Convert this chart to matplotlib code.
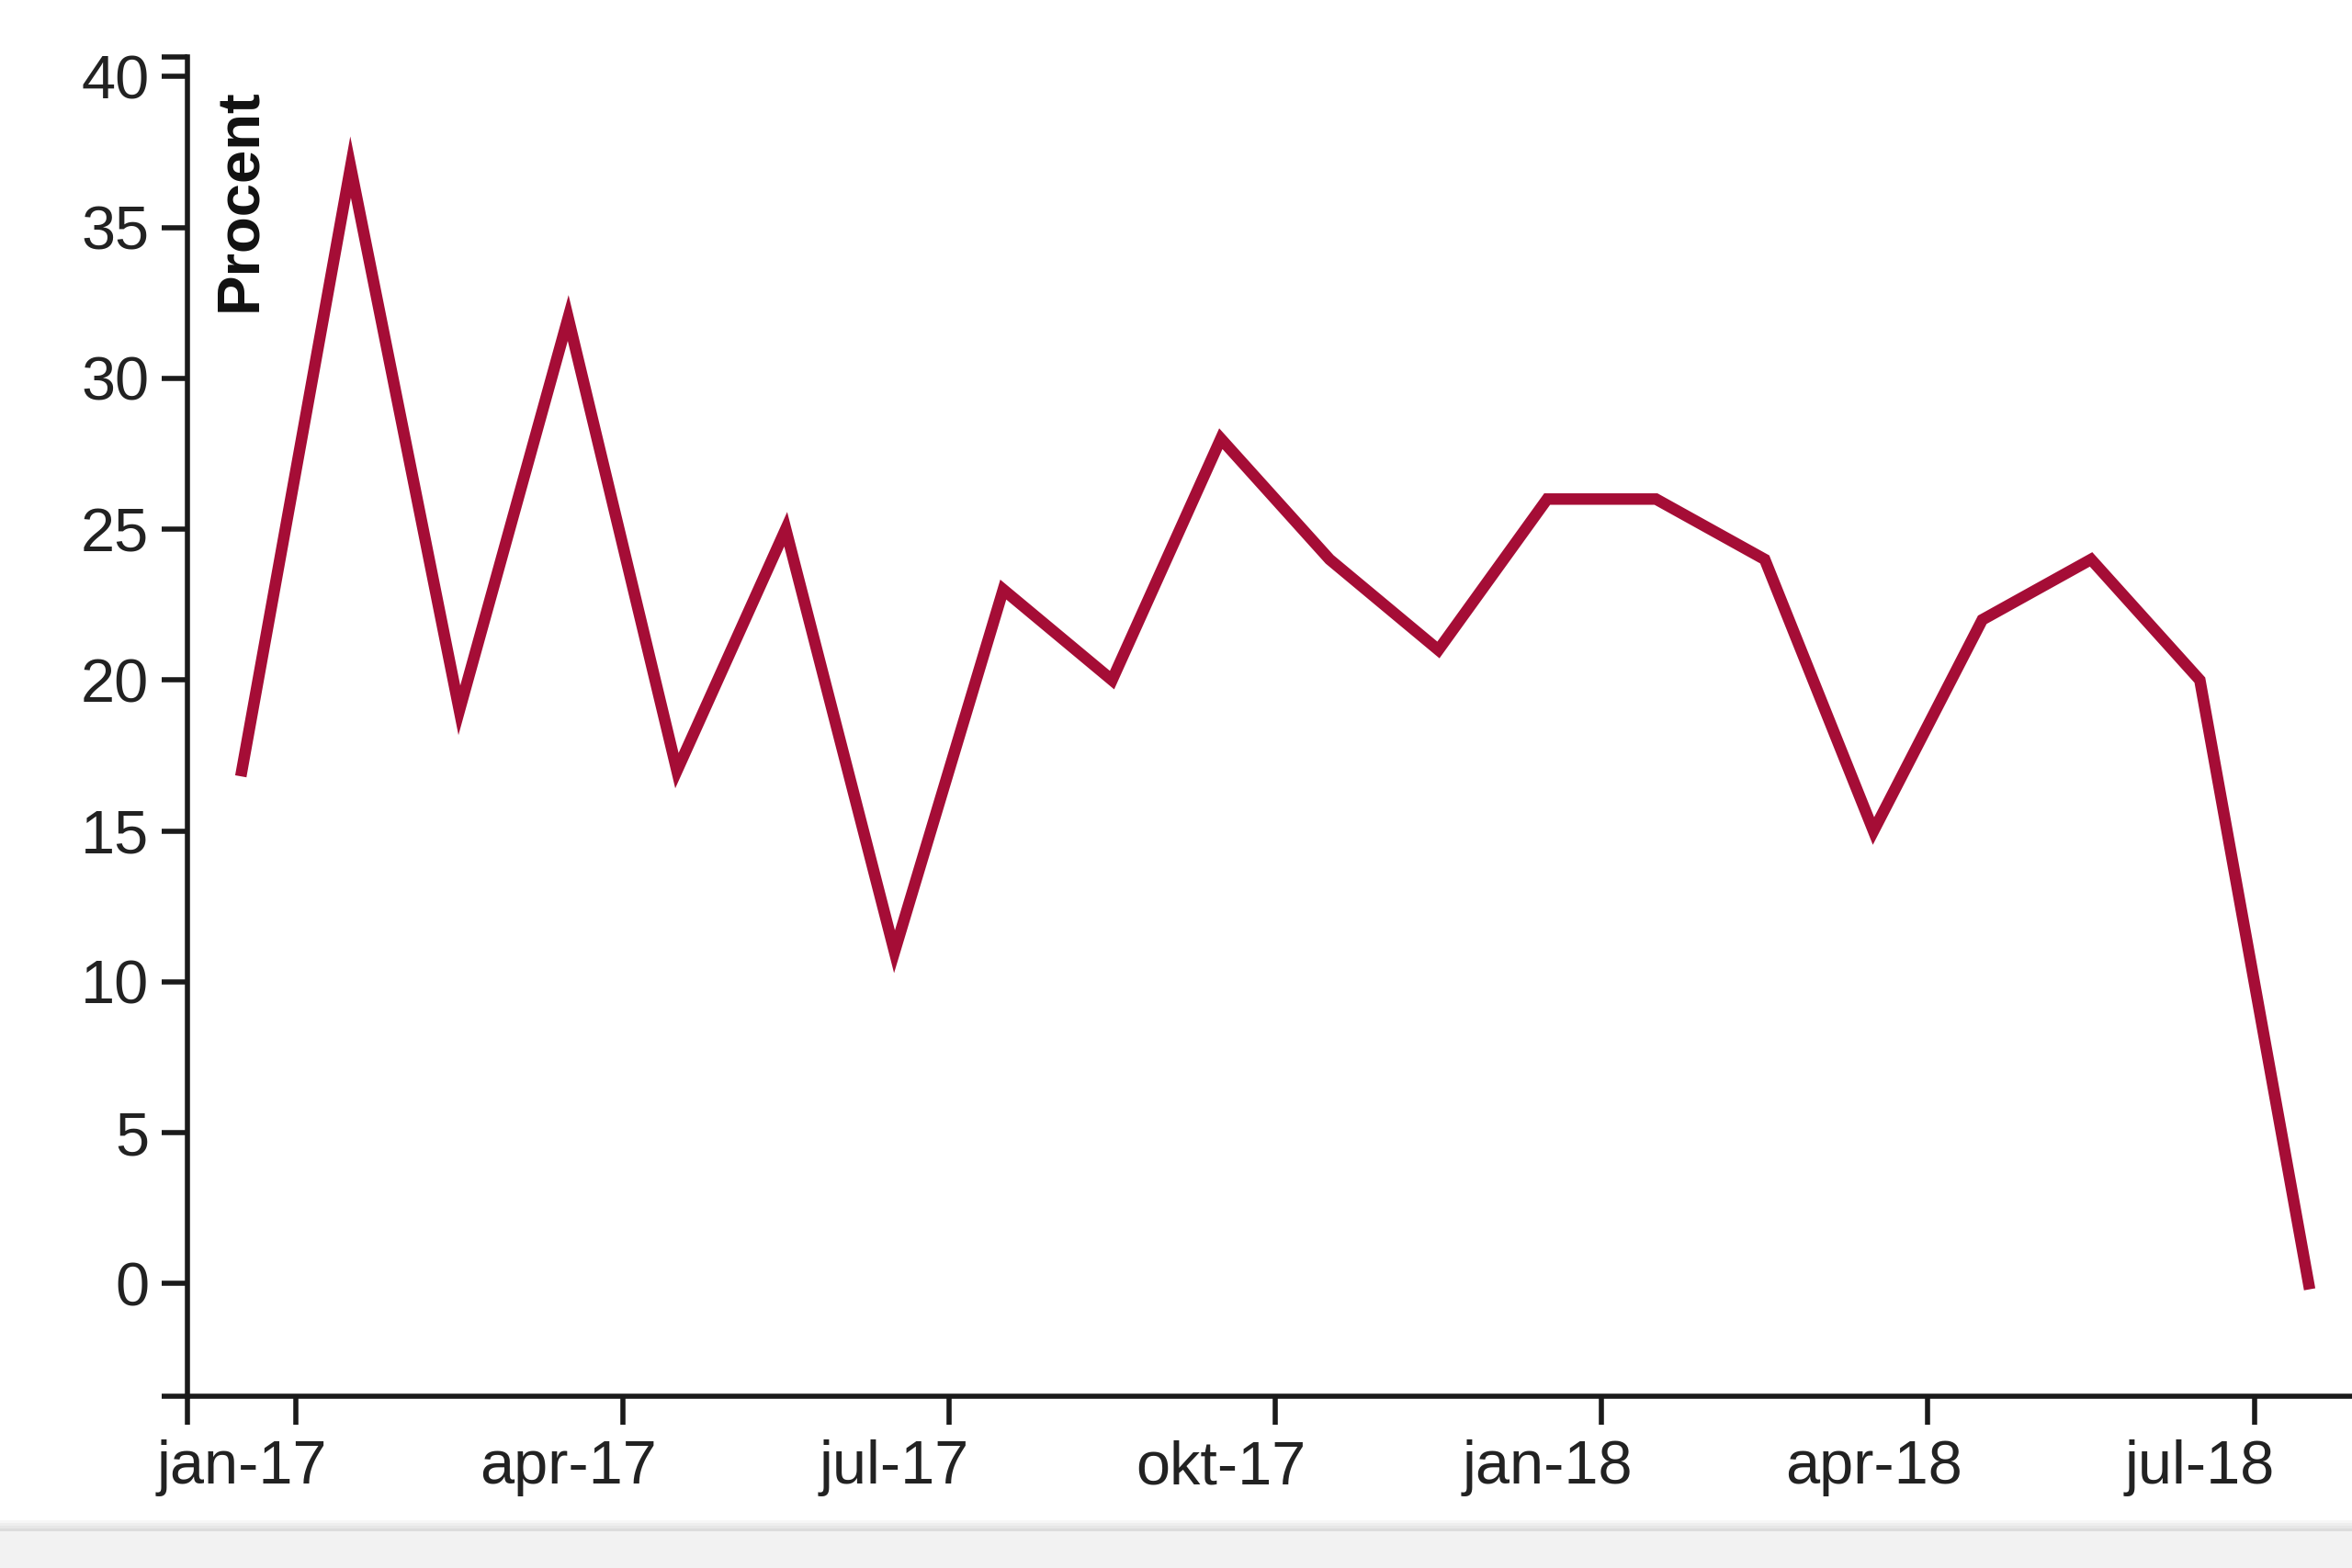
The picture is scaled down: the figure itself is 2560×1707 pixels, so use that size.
import matplotlib.pyplot as plt
from matplotlib.patches import Rectangle
import numpy as np

plt.rcParams['font.family'] = ['Liberation Sans', 'DejaVu Sans']

# Monthly share, jan-17 .. aug-18
months = ['jan-17', 'feb-17', 'mar-17', 'apr-17', 'maj-17', 'jun-17', 'jul-17',
          'aug-17', 'sep-17', 'okt-17', 'nov-17', 'dec-17', 'jan-18', 'feb-18',
          'mar-18', 'apr-18', 'maj-18', 'jun-18', 'jul-18', 'aug-18']
procent = [17, 37, 19, 32, 17, 25, 11, 23, 20, 28, 24, 21, 26, 26, 24, 15, 22, 24, 20, 0]
y_ticks = [0, 5, 10, 15, 20, 25, 30, 35, 40]

line_color = '#a50d36'
ink = '#1a1a1a'

W, H = 2560, 1707
fig = plt.figure(figsize=(W / 100, H / 100), dpi=100)
fig.patch.set_facecolor('w')

# axes placed in pixels, right end runs just past the figure edge
left, right, top, bottom = 204, 2572, 62, 1520
ax = fig.add_axes([left / W, 1 - bottom / H, (right - left) / W, (bottom - top) / H])
ax.patch.set_alpha(0)

x = np.arange(len(months))
ax.plot(x, procent, color=line_color, lw=9, solid_joinstyle='miter', clip_on=False)

ax.set_xlim(-0.5, len(months) - 0.5)
ax.set_ylim(-3.73, 40.65)

for s in ['top', 'right']:
    ax.spines[s].set_visible(False)
for s in ['left', 'bottom']:
    ax.spines[s].set_linewidth(4)
    ax.spines[s].set_color(ink)

# y axis: labelled ticks plus outer ticks at both ends of the domain
ax.set_yticks(y_ticks)
ax.set_yticks([-3.73, 40.65], minor=True)
ax.tick_params(axis='y', which='both', length=20, width=4, color=ink,
               labelsize=48, labelcolor='#222222', pad=10)

# x axis: ticks at band edges, labels centred on the month
lab_idx = list(range(0, len(months), 3))
ax.set_xticks([-0.5] + [i + 0.5 for i in lab_idx])
ax.set_xticklabels([''] * (len(lab_idx) + 1))
ax.set_xticks(lab_idx, [months[i] for i in lab_idx], minor=True)
ax.tick_params(axis='x', which='major', length=22, width=4, color=ink)
ax.tick_params(axis='x', which='minor', length=0, labelsize=48,
               labelcolor='#222222', pad=34)

fig.text(261 / W, 1 - 96 / H, 'Procent', rotation=90, ha='center', va='top',
         fontsize=47, fontweight='bold', color='#111111')

# grey strip of the page below the chart
fig.patches.append(Rectangle((0, 0), 1, 40 / H, transform=fig.transFigure,
                             facecolor='#f2f2f2', edgecolor='none', zorder=-1))
for k, c in enumerate(['#dcdcdc', '#e6e6e6', '#eeeeee', '#f6f6f6']):
    fig.patches.append(Rectangle((0, (40 + 3 * k) / H), 1, 3 / H, transform=fig.transFigure,
                                 facecolor=c, edgecolor='none', zorder=-1))

fig.savefig('out.png', dpi=100)
